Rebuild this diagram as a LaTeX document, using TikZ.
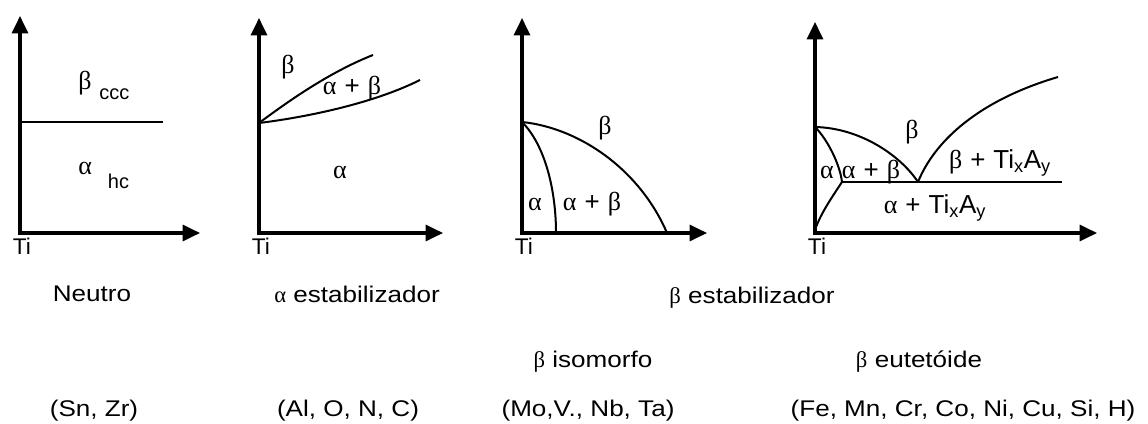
\documentclass[tikz,border=0pt]{standalone}
\usepackage{fontspec}
\setmainfont{Liberation Sans}
\newfontfamily\grk{Liberation Serif}
\newfontfamily\lbl[FakeStretch=1.15]{Liberation Sans}
\usetikzlibrary{arrows.meta}
\newcommand{\alf}{{\grk α}}
\newcommand{\bet}{{\grk β}}
\newcommand{\mais}{\hspace{6pt}+\hspace{6pt}}
\newcommand{\tixay}{Ti\textsubscript{x}A\textsubscript{y}}
\begin{document}
\begin{tikzpicture}[x=0.75pt,y=-0.75pt,>={Triangle[length=13pt,width=12pt]},
  axis/.style={line width=2.3pt,<->,line join=miter},
  bound/.style={line width=1.5pt},
  lab/.style={font=\fontsize{19.5}{22}\selectfont,inner sep=0pt},
  eixo/.style={font=\fontsize{17}{20}\selectfont,inner sep=0pt,anchor=north},
  legenda/.style={font=\lbl\fontsize{17}{20}\selectfont,anchor=base,inner sep=0pt}]
  \useasboundingbox (0,0) rectangle (1148,424);
  \foreach \ox/\ty/\ex [count=\i] in {20/16/200,259/18/443,522/18/707,815/22/1097}{
    \draw[axis] (\ox,\ty) |- (\ex,233);
    \node[eixo] (ti\i) at (\ox+2,238) {Ti};
  }
  % neutro
  \draw[line width=2.2pt] (20,122) -- (163,122);
  \node[lab,anchor=base west] (bccc) at (78,90)
    {\bet\hspace{6pt}\raisebox{-7.5pt}{\fontsize{15}{18}\selectfont ccc}};
  \node[lab,anchor=base west] (ahc) at (78,175)
    {\alf\hspace{12pt}\raisebox{-9.75pt}{\fontsize{15}{18}\selectfont hc}};
  % alfa estabilizador
  \coordinate (tp2) at (259,123);
  \draw[bound] (tp2) .. controls (290,100) and (330,72) .. (373,55);
  \draw[bound] (tp2) .. controls (300,118) and (370,105) .. (420,80);
  \node[lab] (b2) at (288,67) {\bet};
  \node[lab] (ab2) at (352,88) {\alf\mais\bet};
  \node[lab] (a2) at (340,172) {\alf};
  % beta isomorfo
  \coordinate (tp3) at (522,122);
  \coordinate (e3a) at (556,233);
  \coordinate (e3b) at (667,233);
  \draw[bound] (tp3) .. controls (580,128) and (640,170) .. (e3b);
  \draw[bound] (tp3) .. controls (545,145) and (556,190) .. (e3a);
  \node[lab] (b3) at (605,128) {\bet};
  \node[lab] (a3) at (535,204) {\alf};
  \node[lab] (ab3) at (592,204) {\alf\mais\bet};
  % beta eutetoide
  \coordinate (top4) at (815,127);
  \coordinate (pk) at (842,182);
  \coordinate (eut) at (918,182);
  \coordinate (bot4) at (815,230);
  \coordinate (lend) at (1062,182);
  \coordinate (rend) at (1058,77);
  \draw[bound] (top4) .. controls (860,128) and (900,155) .. (eut);
  \draw[bound] (top4) .. controls (828,140) and (840,165) .. (pk);
  \draw[bound] (pk) .. controls (830,200) and (820,215) .. (bot4);
  \draw[bound] (pk) -- (lend);
  \draw[bound] (eut) .. controls (935,140) and (980,100) .. (rend);
  \node[lab] (b4) at (912,132) {\bet};
  \node[lab] (bt4) at (1000,163) {\bet\mais\tixay};
  \node[lab] (a4) at (827,172) {\alf};
  \node[lab] (ab4) at (871,172) {\alf\mais\bet};
  \node[lab] (at4) at (935,208) {\alf\mais\tixay};
  % textos
  \node[legenda] (neutro) at (92,301) {Neutro};
  \node[legenda] (aest) at (357,302) {\alf\ estabilizador};
  \node[legenda] (best) at (752,303) {\bet\ estabilizador};
  \node[legenda] (biso) at (593,367) {\bet\ isomorfo};
  \node[legenda] (beut) at (919,367) {\bet\ eutetóide};
  \node[legenda] (el1) at (94,416) {(Sn, Zr)};
  \node[legenda] (el2) at (348,416) {(Al, O, N, C)};
  \node[legenda] (el3) at (588,416) {(Mo,V., Nb, Ta)};
  \node[legenda] (el4) at (963,416) {(Fe, Mn, Cr, Co, Ni, Cu, Si, H)};
\end{tikzpicture}
\end{document}
